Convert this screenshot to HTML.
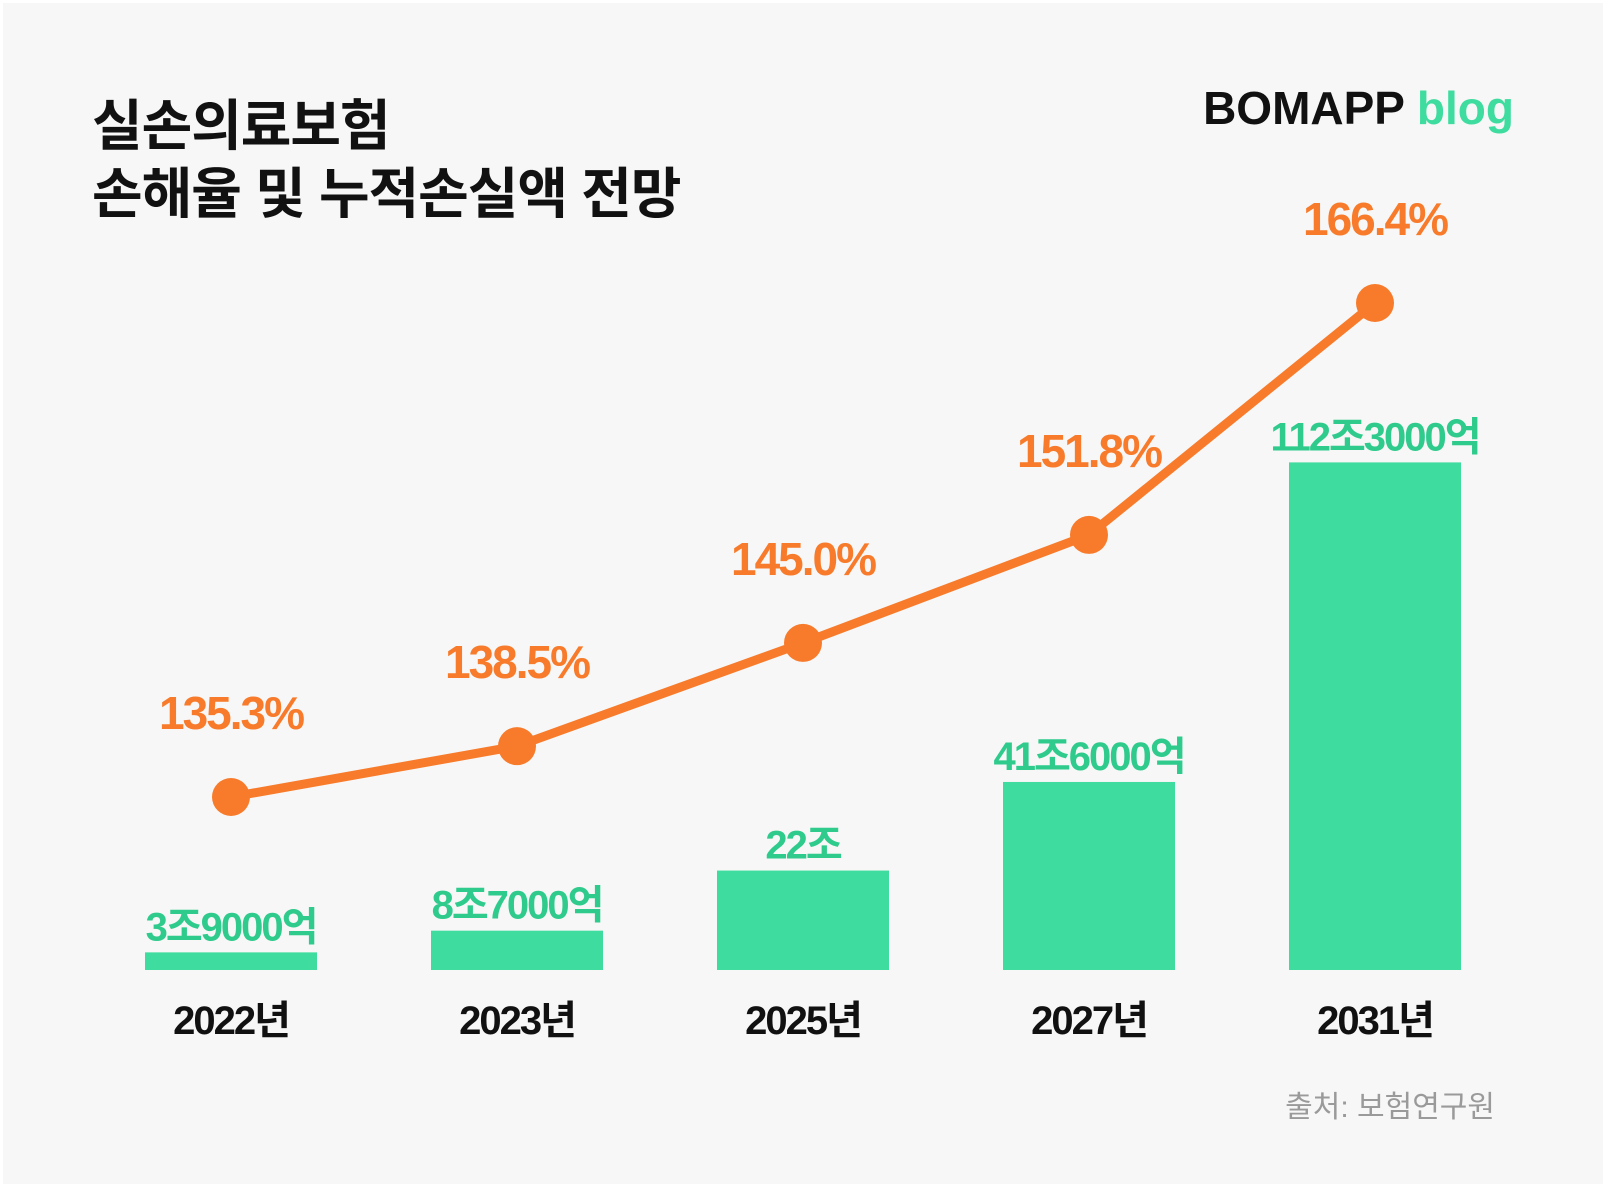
<!DOCTYPE html>
<html><head><meta charset="utf-8">
<style>
html,body{margin:0;padding:0;background:#fff;}
body{width:1606px;height:1187px;overflow:hidden;}
svg{display:block;}
text{font-family:"Liberation Sans","Noto Sans CJK KR",sans-serif;}
</style></head>
<body>
<svg width="1606" height="1187" viewBox="0 0 1606 1187">
<rect x="3" y="3" width="1600" height="1181" fill="#f7f7f7"/>
<text x="92" y="145" font-size="55" font-weight="bold" fill="#111" letter-spacing="-1">실손의료보험</text>
<text x="92" y="213" font-size="55" font-weight="bold" fill="#111" letter-spacing="-1">손해율 및 누적손실액 전망</text>
<text x="1514" y="124" font-size="46" font-weight="bold" text-anchor="end"><tspan fill="#111">BOMAPP </tspan><tspan fill="#3edc9e">blog</tspan></text>
<text x="1495" y="1117" font-size="30" fill="#9a9a9a" text-anchor="end">출처: 보험연구원</text>
<g id="bars"></g><g id="line"></g><g id="labels"></g>
</svg>
<script>
const categories=["2022년","2023년","2025년","2027년","2031년"];
const lossValues=[3.9,8.7,22,41.6,112.3];
const lossLabels=["3조9000억","8조7000억","22조","41조6000억","112조3000억"];
const ratioValues=[135.3,138.5,145.0,151.8,166.4];
const ratioLabels=["135.3%","138.5%","145.0%","151.8%","166.4%"];
const NS="http://www.w3.org/2000/svg";
const xC=i=>231+i*286;
const barW=172, base=970;
const yBar=v=>base-v*4.52;
const yLine=v=>797+(v-135.3)*(303-797)/(166.4-135.3);
function mk(tag,attrs,parent,txt){const e=document.createElementNS(NS,tag);for(const k in attrs)e.setAttribute(k,attrs[k]);if(txt!==undefined)e.textContent=txt;document.getElementById(parent).appendChild(e);return e;}
lossValues.forEach((v,i)=>{
 const r=mk('rect',{x:xC(i)-barW/2,y:yBar(v),width:barW,height:base-yBar(v),fill:'#3edc9e'},'bars');
 
 
 const t=mk('text',{x:xC(i),y:yBar(v)-12,'font-size':40,'font-weight':'bold',fill:'#2fcb8c','text-anchor':'middle','letter-spacing':-2},'labels',lossLabels[i]);
 
 
 const y=mk('text',{x:xC(i),y:1034,'font-size':40,'font-weight':'bold',fill:'#111','text-anchor':'middle','letter-spacing':-2},'labels',categories[i]);
 
 
});
const pts=ratioValues.map((v,i)=>xC(i)+','+yLine(v)).join(' ');
const pl=mk('polyline',{points:pts,fill:'none',stroke:'#f77b2b','stroke-width':9},'line');


ratioValues.forEach((v,i)=>{
 const c=mk('circle',{cx:xC(i),cy:yLine(v),r:19,fill:'#f77b2b'},'line');
 
 
 const t=mk('text',{x:xC(i),y:yLine(v)-68,'font-size':46,'font-weight':'bold',fill:'#f77b2b','text-anchor':'middle','letter-spacing':-2},'labels',ratioLabels[i]);
 
 
});
</script>
</body></html>
